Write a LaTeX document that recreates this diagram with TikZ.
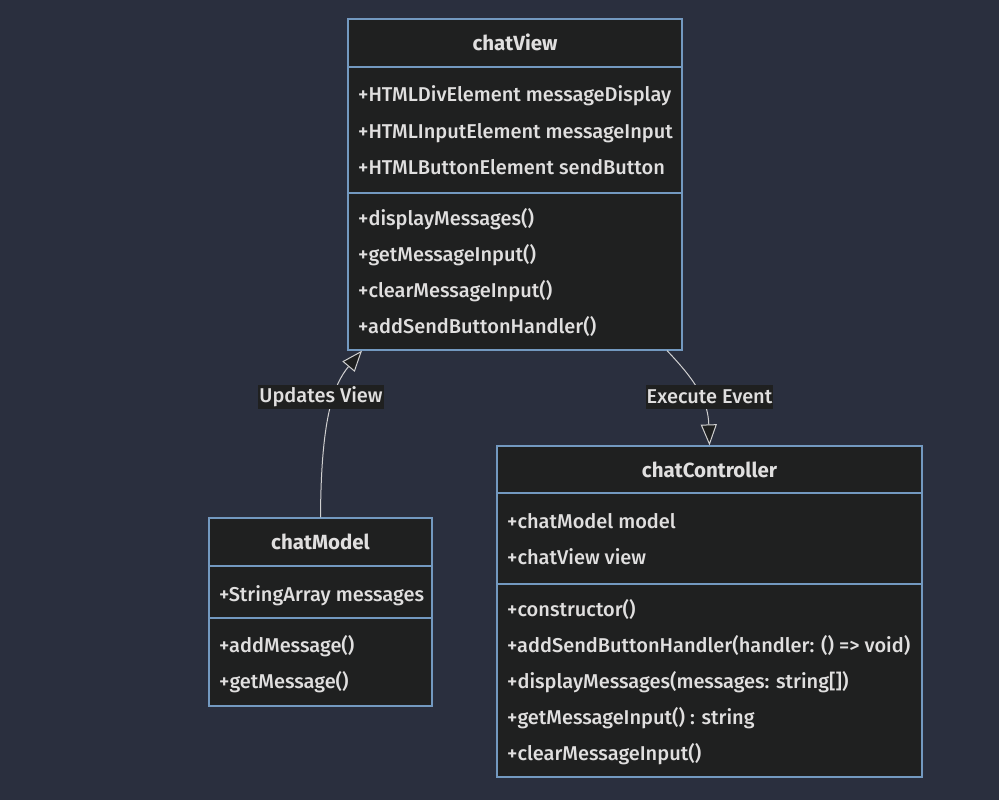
\documentclass[tikz,border=0pt]{standalone}
\usepackage{fontspec}
\setmainfont{Fira Sans}[UprightFont={* Medium},BoldFont={* Bold}]
\usetikzlibrary{arrows.meta}
\definecolor{bg}{HTML}{2A2F3E}
\definecolor{boxfill}{HTML}{1F2020}
\definecolor{frame}{HTML}{7399C0}
\definecolor{txt}{HTML}{E0DFDF}
\definecolor{wire}{HTML}{D0D0D0}
\tikzset{>={Triangle[length=21pt,width=16pt,fill=boxfill]}}

\begin{document}
\begin{tikzpicture}[x=1pt,y=-1pt,font=\fontsize{20}{22}\selectfont]
\tikzstyle{c}=[draw=frame,fill=boxfill,line width=1.2pt,inner sep=0]
\tikzstyle{d}=[draw=frame,line width=1.2pt]
\tikzstyle{t}=[anchor=base west,inner sep=0,text=txt]
\tikzstyle{h}=[anchor=base,inner sep=0,text=txt,font=\fontsize{20.5}{22}\selectfont\bfseries]
\tikzstyle{l}=[fill=boxfill,text=txt,inner xsep=1pt,inner ysep=0,minimum height=24pt]

    \fill[bg] (0,0) rectangle (999,800);

    % chatView
    \node[c, minimum width=334pt, minimum height=331pt] (v) at (515,184.5){};
    \draw[d] (348,67) -- (682,67);
    \draw[d] (348,193) -- (682,193);
    \node[h] (vh) at (515,51) {chatView};
    \node[t] (v1) at (358,102) {+HTMLDivElement messageDisplay};
    \node[t] (v2) at (358,138) {+HTMLInputElement messageInput};
    \node[t] (v3) at (358,174) {+HTMLButtonElement sendButton};
    \node[t] (v4) at (358,225) {+displayMessages()};
    \node[t] (v5) at (358,261) {+getMessageInput()};
    \node[t] (v6) at (358,297) {+clearMessageInput()};
    \node[t] (v7) at (358,333) {+addSendButtonHandler()};

    % chatModel
    \node[c, minimum width=223pt, minimum height=188pt] (m) at (320.5,612){};
    \draw[d] (209,566) -- (432,566);
    \draw[d] (209,618) -- (432,618);
    \node[h] (mh) at (320.5,549) {chatModel};
    \node[t] (m1) at (219,601) {+StringArray messages};
    \node[t] (m2) at (219,652) {+addMessage()};
    \node[t] (m3) at (219,688) {+getMessage()};

    % chatController
    \node[c, minimum width=425pt, minimum height=331pt] (cc) at (709.5,611.5){};
    \draw[d] (497,493) -- (922,493);
    \draw[d] (497,584) -- (922,584);
    \node[h] (ch) at (709.5,477) {chatController};
    \node[t] (c1) at (507,528) {+chatModel model};
    \node[t] (c2) at (507,564) {+chatView view};
    \node[t] (c3) at (507,616) {+constructor()};
    \node[t] (c4) at (507,652) {+addSendButtonHandler(handler: () => void)};
    \node[t] (c5) at (507,688) {+displayMessages(messages: string[])};
    \node[t] (c6) at (507,724) {+getMessageInput() : string};
    \node[t] (c7) at (507,760) {+clearMessageInput()};

    % relations
    \draw[->,wire,line width=1pt] (m.north) .. controls (321,420) and (333,385) .. ([xshift=-153pt]v.south);
    \draw[->,wire,line width=1pt] ([xshift=152pt]v.south) .. controls (695,380) and (708,400) .. (cc.north);
    \node[l] (lu) at (321,397) {Updates View};
    \node[l] (le) at (709.5,397) {Execute Event};

\end{tikzpicture}
\end{document}
